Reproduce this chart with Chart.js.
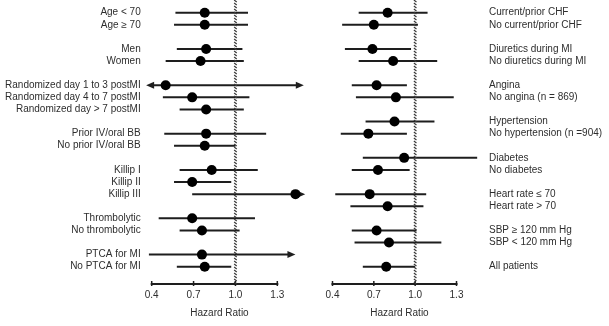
<!DOCTYPE html>
<html>
<head>
<meta charset="utf-8">
<script src="https://cdn.jsdelivr.net/npm/chart.js@4/dist/chart.umd.min.js"></script>
<style>
  html, body { margin: 0; padding: 0; background: #fff; }
  #wrap { position: relative; width: 609px; height: 326px; }
  #wrap canvas { position: absolute; left: 0; top: 0; }
</style>
</head>
<body>
<div id="wrap">
  <canvas id="leftPanel" width="609" height="326"></canvas>
  <canvas id="rightPanel" width="609" height="326"></canvas>
</div>
<script>
// Hazard-ratio axis ticks shared by both panels
const xTicks = [0.4, 0.7, 1.0, 1.3];
const referenceHR = 1.0;
const axisTitle = 'Hazard Ratio';

// Left panel subgroups (empty strings separate the groups)
const leftLabels = [
  'Age < 70', 'Age \u2265 70', '',
  'Men', 'Women', '',
  'Randomized day 1 to 3 postMI', 'Randomized day 4 to 7 postMI', 'Randomized day > 7 postMI', '',
  'Prior IV/oral BB', 'No prior IV/oral BB', '',
  'Killip I', 'Killip II', 'Killip III', '',
  'Thrombolytic', 'No thrombolytic', '',
  'PTCA for MI', 'No PTCA for MI'
];
const leftHR   = [0.78, 0.78, null, 0.79, 0.75, null, 0.50, 0.69, 0.79, null, 0.79, 0.78, null, 0.83, 0.69, 1.43, null, 0.69, 0.76, null, 0.76, 0.78];
const leftLow  = [0.57, 0.56, null, 0.58, 0.50, null, 0.36, 0.48, 0.60, null, 0.49, 0.56, null, 0.60, 0.56, 0.69, null, 0.45, 0.60, null, 0.38, 0.58];
const leftHigh = [1.09, 1.09, null, 1.05, 1.06, null, 1.49, 1.10, 1.06, null, 1.22, 1.00, null, 1.16, 0.97, 1.50, null, 1.14, 1.03, null, 1.43, 0.97];
// 1 = interval continues past the drawn end (arrow head)
const leftArrowLow  = [0, 0, 0, 0, 0, 0, 1, 0, 0, 0, 0, 0, 0, 0, 0, 0, 0, 0, 0, 0, 0, 0];
const leftArrowHigh = [0, 0, 0, 0, 0, 0, 1, 0, 0, 0, 0, 0, 0, 0, 0, 1, 0, 0, 0, 0, 1, 0];

// Right panel subgroups
const rightLabels = [
  'Current/prior CHF', 'No current/prior CHF', '',
  'Diuretics during MI', 'No diuretics during MI', '',
  'Angina', 'No angina (n = 869)', '',
  'Hypertension', 'No hypertension (n =904)', '',
  'Diabetes', 'No diabetes', '',
  'Heart rate \u2264 70', 'Heart rate > 70', '',
  'SBP \u2265 120 mm Hg', 'SBP < 120 mm Hg', '',
  'All patients'
];
const rightHR   = [0.80, 0.70, null, 0.69, 0.84, null, 0.72, 0.86, null, 0.85, 0.66, null, 0.92, 0.73, null, 0.67, 0.80, null, 0.72, 0.81, null, 0.79];
const rightLow  = [0.59, 0.47, null, 0.49, 0.59, null, 0.54, 0.57, null, 0.64, 0.46, null, 0.62, 0.54, null, 0.42, 0.53, null, 0.54, 0.56, null, 0.62];
const rightHigh = [1.09, 1.02, null, 0.97, 1.16, null, 0.94, 1.28, null, 1.14, 0.94, null, 1.45, 0.96, null, 1.08, 1.06, null, 1.01, 1.19, null, 1.00];
const rightArrowLow  = rightHR.map(() => 0);
const rightArrowHigh = rightHR.map(() => 0);

const FONT = { family: "'Liberation Sans', Arial, sans-serif", size: 10 };
const TEXT = '#2e2e2e';
const INK = '#1e1e1e';

// Draws the hatched reference line, confidence intervals, arrows and the HR axis
const forestPlugin = {
  id: 'forest',
  beforeDatasetsDraw(chart, args, opts) {
    const { ctx, chartArea } = chart;
    const xs = chart.scales.x, ys = chart.scales.y;
    const x0 = xs.getPixelForValue(xTicks[0]);
    const x1 = xs.getPixelForValue(xTicks[xTicks.length - 1]);
    ctx.save();

    // axis line with tick marks
    ctx.strokeStyle = INK;
    ctx.lineWidth = 2;
    ctx.beginPath();
    ctx.moveTo(x0 - 1, chartArea.bottom);
    ctx.lineTo(x1 + 1, chartArea.bottom);
    ctx.stroke();
    ctx.lineWidth = 1.5;
    xTicks.forEach(v => {
      const px = xs.getPixelForValue(v);
      ctx.beginPath();
      ctx.moveTo(px, chartArea.bottom - 3);
      ctx.lineTo(px, chartArea.bottom + 2);
      ctx.stroke();
    });

    // axis title, centred under the tick range
    ctx.fillStyle = TEXT;
    ctx.font = `${FONT.size}px ${FONT.family}`;
    ctx.textAlign = 'center';
    ctx.textBaseline = 'middle';
    ctx.fillText(axisTitle, (x0 + x1) / 2 + 5, chartArea.bottom + 29);

    // intervals
    ctx.strokeStyle = INK;
    ctx.fillStyle = INK;
    ctx.lineWidth = 2;
    opts.low.forEach((lo, i) => {
      if (lo === null) return;
      const y = ys.getPixelForValue(i);
      const a = xs.getPixelForValue(lo);
      const b = xs.getPixelForValue(opts.high[i]);
      const a1 = opts.arrowLow[i] ? 7 : 0;
      const a2 = opts.arrowHigh[i] ? 7 : 0;
      ctx.beginPath();
      ctx.moveTo(a + a1, y);
      ctx.lineTo(b - a2, y);
      ctx.stroke();
      if (a1) {
        ctx.beginPath();
        ctx.moveTo(a, y);
        ctx.lineTo(a + 8, y - 3.5);
        ctx.lineTo(a + 8, y + 3.5);
        ctx.closePath();
        ctx.fill();
      }
      if (a2) {
        ctx.beginPath();
        ctx.moveTo(b, y);
        ctx.lineTo(b - 8, y - 3.5);
        ctx.lineTo(b - 8, y + 3.5);
        ctx.closePath();
        ctx.fill();
      }
    });

    // hatched line of no effect
    const rx = xs.getPixelForValue(referenceHR);
    ctx.strokeStyle = '#3a3a3a';
    ctx.lineWidth = 1.2;
    for (let y = chartArea.top; y < chartArea.bottom; y += 3) {
      ctx.beginPath();
      ctx.moveTo(rx - 1.3, y);
      ctx.lineTo(rx + 1.3, y + 2);
      ctx.stroke();
    }
    ctx.restore();
  }
};

function makePanel(canvasId, labels, hr, low, high, arrowLow, arrowHigh, side, frame) {
  const isLeft = side === 'left';
  const points = hr.map((v, i) => (v === null ? null : { x: v, y: i })).filter(p => p);
  return new Chart(document.getElementById(canvasId), {
    type: 'scatter',
    data: {
      datasets: [{
        data: points,
        clip: false,
        pointRadius: 5,
        pointHoverRadius: 5,
        pointBackgroundColor: '#000',
        pointBorderColor: '#000',
        pointBorderWidth: 0
      }]
    },
    plugins: [forestPlugin],
    options: {
      responsive: false,
      animation: false,
      devicePixelRatio: 1,
      events: [],
      layout: { autoPadding: false, padding: frame.padding },
      plugins: {
        legend: { display: false },
        tooltip: { enabled: false },
        forest: { low, high, arrowLow, arrowHigh }
      },
      scales: {
        x: {
          type: 'linear',
          min: xTicks[0],
          max: frame.xMax,
          afterBuildTicks: s => { s.ticks = xTicks.map(v => ({ value: v })); },
          afterFit: s => { s.height = 42; s.paddingLeft = 0; s.paddingRight = 0; },
          grid: { display: false, drawTicks: false },
          border: { display: false },
          ticks: {
            padding: 5, color: TEXT, font: FONT, maxRotation: 0, autoSkip: false,
            callback: v => Number(v).toFixed(1)
          }
        },
        y: {
          type: 'linear',
          position: side,
          reverse: true,
          min: -1.05,
          max: 22.43,
          afterBuildTicks: s => {
            s.ticks = labels.map((l, i) => ({ value: i, label: l }))
              .filter(t => t.label !== '')
              .map(t => ({ value: t.value }));
          },
          afterFit: s => { s.width = frame.yWidth; s.paddingTop = 0; s.paddingBottom = 0; },
          grid: { display: false, drawTicks: false },
          border: { display: false },
          ticks: {
            padding: frame.labelGap, color: TEXT, font: FONT, autoSkip: false,
            callback: v => labels[v]
          }
        }
      }
    }
  });
}

// Left panel leaves room past 1.3 for the open-ended intervals
makePanel('leftPanel', leftLabels, leftHR, leftLow, leftHigh, leftArrowLow, leftArrowHigh, 'left',
  { xMax: 1.55, yWidth: 151.7, labelGap: 11, padding: { left: 0, right: 296.8, top: 0, bottom: 0 } });
makePanel('rightPanel', rightLabels, rightHR, rightLow, rightHigh, rightArrowLow, rightArrowHigh, 'right',
  { xMax: 1.3, yWidth: 152.5, labelGap: 32.5, padding: { left: 332.5, right: 0, top: 0, bottom: 0 } });
</script>
</body>
</html>
